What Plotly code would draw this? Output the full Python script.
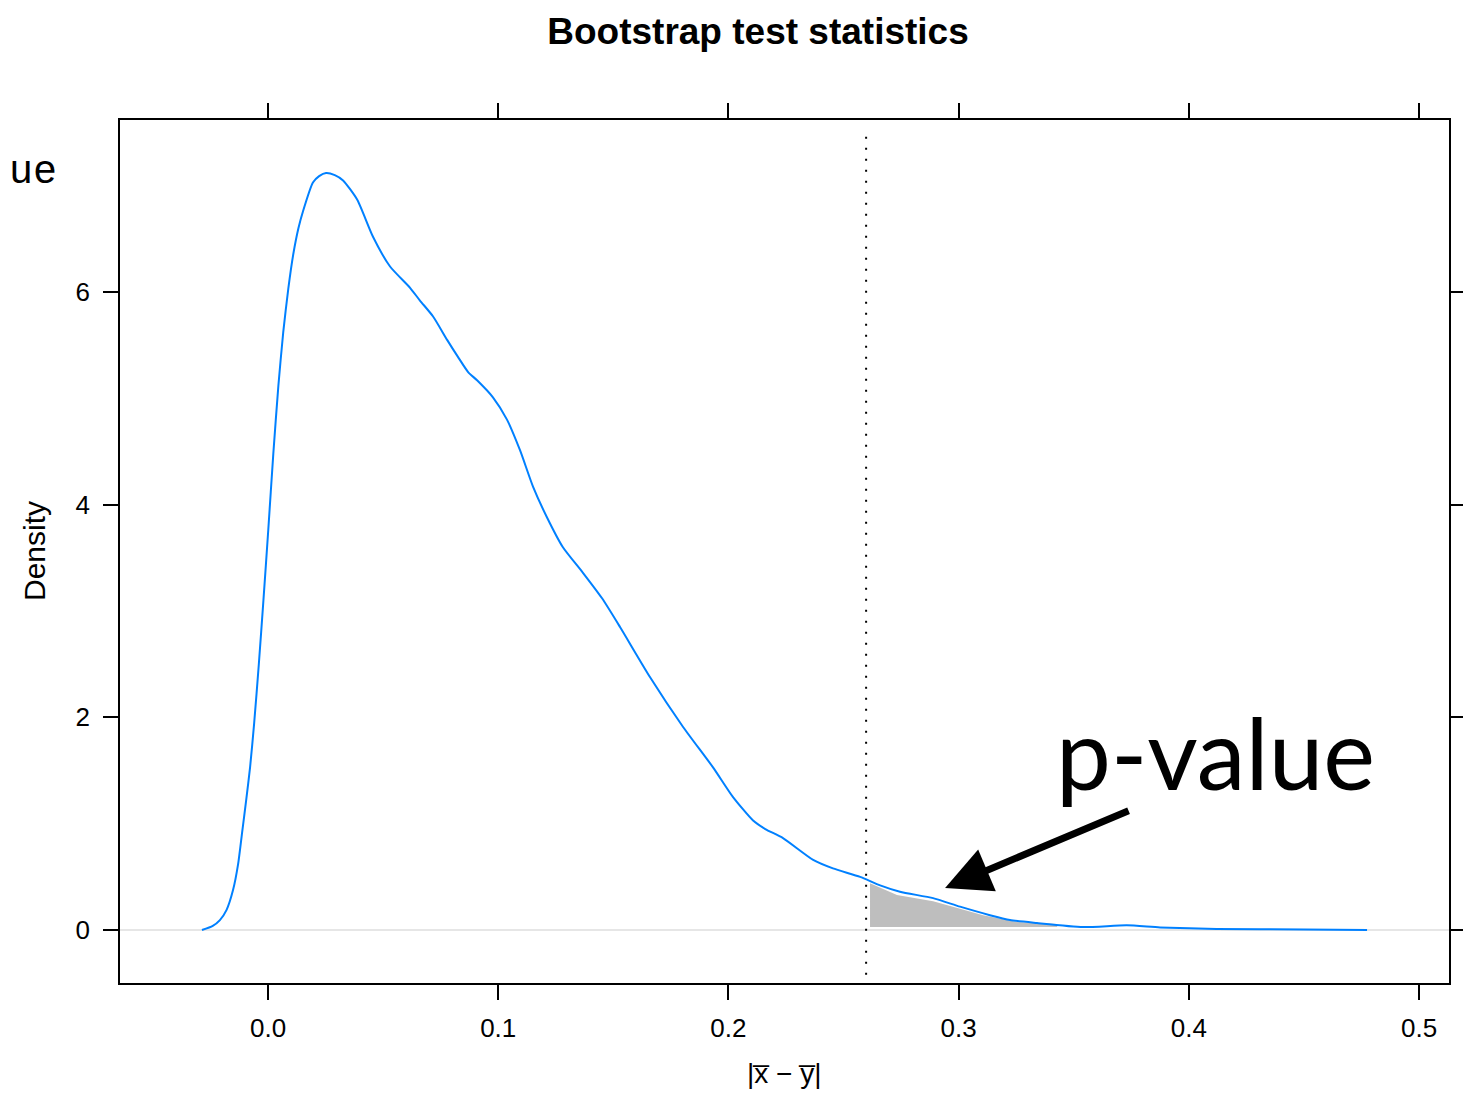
import plotly.graph_objects as go

# Density curve of bootstrap statistics
stat_x = [-0.0287, -0.0240, -0.0209, -0.0180, -0.0152, -0.0130, -0.0113, -0.0095, -0.0078,
          -0.0060, -0.0040, -0.0020, 0.0001, 0.0023, 0.0045, 0.0066, 0.0088, 0.0110,
          0.0132, 0.0152, 0.0195, 0.0222, 0.0252, 0.0290, 0.0326, 0.0387,
          0.0456, 0.0530, 0.0617, 0.0660, 0.0717, 0.0778, 0.0825, 0.0870, 0.0908, 0.0977,
          0.1038, 0.1095, 0.1151, 0.1212, 0.1281, 0.1368, 0.1451, 0.1529, 0.1659, 0.1803,
          0.1933, 0.2020, 0.2107, 0.2160, 0.2237, 0.2368, 0.2454, 0.2572, 0.2659, 0.2745,
          0.2889, 0.3006, 0.3136, 0.3223, 0.3340, 0.3540, 0.3730, 0.3875, 0.4120, 0.4500,
          0.4774]
density = [0.0, 0.04, 0.094, 0.19, 0.376, 0.62, 0.91, 1.22, 1.53,
           1.95, 2.50, 3.10, 3.76, 4.48, 5.12, 5.62, 6.03, 6.36,
           6.60, 6.76, 7.03, 7.09, 7.12, 7.10, 7.05, 6.87,
           6.52, 6.24, 6.04, 5.92, 5.77, 5.55, 5.39, 5.245, 5.17, 5.01,
           4.80, 4.51, 4.17, 3.88, 3.60, 3.36, 3.12, 2.85, 2.38, 1.91,
           1.53, 1.25, 1.03, 0.95, 0.865, 0.66, 0.58, 0.50, 0.42, 0.36,
           0.30, 0.22, 0.14, 0.094, 0.066, 0.028, 0.044, 0.025, 0.010, 0.006,
           0.0]

# Shaded tail region (p-value)
tail_x = [0.2615, 0.2615, 0.2732, 0.2889, 0.3006, 0.3106, 0.3254, 0.3428, 0.3428]
tail_y = [0.028, 0.44, 0.33, 0.27, 0.20, 0.14, 0.075, 0.056, 0.028]

observed = 0.2598
x_ticks = [0.0, 0.1, 0.2, 0.3, 0.4, 0.5]
x_tick_labels = ["0.0", "0.1", "0.2", "0.3", "0.4", "0.5"]
y_ticks = [0, 2, 4, 6]
y_tick_labels = ["0", "2", "4", "6"]

OFF = 8  # page body margin
W, H = 1471 - 2 * OFF, 1099 - 2 * OFF
# target plot area in page pixels: x 120..1449, y 120..983
PL, PR, PT, PB = 120, 1449, 120, 983
L, T = PL - OFF, PT - OFF
R = (OFF + W) - PR
B = (OFF + H) - PB
pw, ph = PR - PL, PB - PT

def px_x(p):
    return (p - PL) / pw

def px_y(p):
    return (PB - p) / ph

fig = go.Figure()
fig.add_trace(go.Scatter(x=tail_x, y=tail_y, fill="toself", fillcolor="#bebebe",
                         mode="none", hoverinfo="skip", showlegend=False))
fig.add_trace(go.Scatter(x=stat_x, y=density, mode="lines",
                         line=dict(color="#0080ff", width=2, shape="spline", smoothing=0.6),
                         showlegend=False))

fig.add_shape(type="line", x0=observed, x1=observed, y0=-0.42, y1=7.54,
              line=dict(color="black", width=2, dash="2px,9px"))

font_main = "Liberation Sans, Arial, sans-serif"
fig.update_layout(
    width=W, height=H,
    margin=dict(l=L, r=R, t=T, b=B, autoexpand=False),
    plot_bgcolor="white", paper_bgcolor="white",
    font=dict(family=font_main, size=26, color="black"),
    title=dict(text="<b>Bootstrap test statistics</b>", x=(758 - OFF) / W,
               xanchor="center", y=1 - (31 - OFF) / H, yanchor="middle",
               font=dict(family=font_main, size=37, color="black")),
    xaxis=dict(range=[-0.0643, 0.513], tickvals=x_ticks, ticktext=x_tick_labels,
               ticks="outside", ticklen=15, tickwidth=1.5, tickcolor="black",
               showline=True, linecolor="black", linewidth=1.5, mirror="ticks",
               showgrid=False, zeroline=False, tickfont=dict(size=26),
               ticklabelstandoff=6),
    yaxis=dict(range=[-0.498, 7.618], tickvals=y_ticks, ticktext=y_tick_labels,
               ticks="outside", ticklen=15, tickwidth=1.5, tickcolor="black",
               showline=True, linecolor="black", linewidth=1.5, mirror="ticks",
               showgrid=False, zeroline=True, zerolinecolor="#e6e6e6", zerolinewidth=2,
               tickfont=dict(size=26), ticklabelstandoff=8),
)

annotations = [
    dict(text="|x\u0305 \u2212 y\u0305|", xref="paper", yref="paper", x=px_x(784), y=px_y(1073),
         showarrow=False, xanchor="center", yanchor="middle", font=dict(size=28)),
    dict(text="Density", xref="paper", yref="paper", x=px_x(34), y=px_y(551),
         showarrow=False, textangle=-90, xanchor="center", yanchor="middle", font=dict(size=30)),
    dict(text="ue", xref="paper", yref="paper", x=px_x(7), y=px_y(172),
         showarrow=False, xanchor="left", yanchor="middle",
         font=dict(family="Liberation Mono, Courier New, monospace", size=40, color="black")),
    dict(text="p-value", xref="paper", yref="paper", x=px_x(1054), y=px_y(752),
         showarrow=False, xanchor="left", yanchor="middle",
         font=dict(family="Lato, Open Sans, sans-serif", size=98, color="black")),
    dict(text="", x=0.2941, y=0.395, xref="x", yref="y", showarrow=True,
         ax=185, ay=-78, arrowhead=2, arrowsize=1.3, arrowwidth=7, arrowcolor="black",
         standoff=0, startstandoff=0),
]
fig.update_layout(annotations=annotations)

fig.write_html("out.html")
